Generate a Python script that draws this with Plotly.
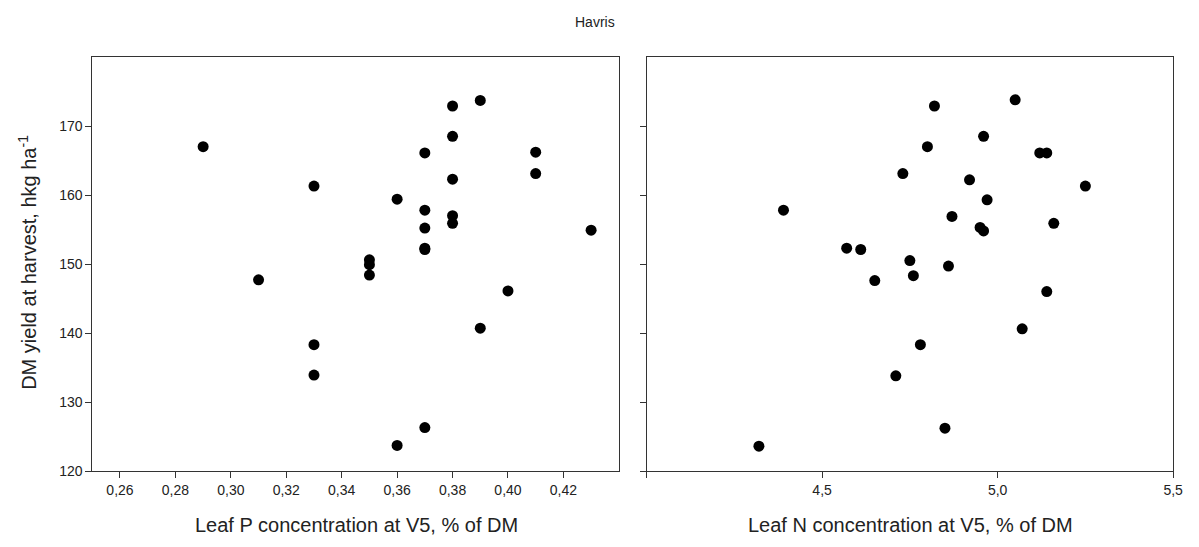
import plotly.graph_objects as go

# Left panel: Leaf P concentration vs DM yield
p_conc = [0.29, 0.31, 0.33, 0.33, 0.33, 0.35, 0.35, 0.35, 0.36, 0.36,
          0.37, 0.37, 0.37, 0.37, 0.37, 0.37, 0.38, 0.38, 0.38, 0.38,
          0.38, 0.39, 0.39, 0.40, 0.41, 0.41, 0.43]
p_yield = [167.0, 147.7, 161.3, 138.3, 133.9, 150.6, 149.9, 148.4, 159.4, 123.7,
           166.1, 157.8, 155.2, 152.3, 152.1, 126.3, 172.9, 168.5, 162.3, 157.0,
           155.9, 173.7, 140.7, 146.1, 166.2, 163.1, 154.9]

# Right panel: Leaf N concentration vs DM yield
n_conc = [4.32, 4.39, 4.57, 4.61, 4.65, 4.71, 4.73, 4.75, 4.76, 4.78,
          4.80, 4.82, 4.85, 4.86, 4.87, 4.92, 4.95, 4.96, 4.96, 4.97,
          5.05, 5.07, 5.12, 5.14, 5.14, 5.16, 5.25]
n_yield = [123.6, 157.8, 152.3, 152.1, 147.6, 133.8, 163.1, 150.5, 148.3, 138.3,
           167.0, 172.9, 126.2, 149.7, 156.9, 162.2, 155.3, 154.8, 168.5, 159.3,
           173.8, 140.6, 166.1, 166.1, 146.0, 155.9, 161.3]

p_tickvals = [0.26, 0.28, 0.30, 0.32, 0.34, 0.36, 0.38, 0.40, 0.42]
p_ticktext = ["0,26", "0,28", "0,30", "0,32", "0,34", "0,36", "0,38", "0,40", "0,42"]
n_tickvals = [4.5, 5.0, 5.5]
n_ticktext = ["4,5", "5,0", "5,5"]
y_tickvals = [120, 130, 140, 150, 160, 170]

OFF = 8  # page body margin
W, H = 1199 - OFF, 547 - OFF
font_family = "Liberation Sans, Arial, sans-serif"

def px(x):
    return (x - OFF) / W

TOP, BOT = 57 - OFF, 471 - OFF
plot_h = BOT - TOP

def py(y):
    return (BOT - (y - OFF)) / plot_h

fig = go.Figure()
marker = dict(color="black", size=11, line=dict(width=0))
fig.add_trace(go.Scatter(x=p_conc, y=p_yield, mode="markers", marker=marker,
                         xaxis="x", yaxis="y", showlegend=False))
fig.add_trace(go.Scatter(x=n_conc, y=n_yield, mode="markers", marker=marker,
                         xaxis="x2", yaxis="y2", showlegend=False))

axis_common = dict(showgrid=False, zeroline=False, showline=True, linecolor="#333333",
                   linewidth=1, mirror=True, ticks="outside", ticklen=6,
                   tickcolor="#333333", tickfont=dict(size=14, color="#222222"))

fig.update_layout(
    width=W, height=H,
    margin=dict(l=0, r=0, t=TOP, b=H - BOT),
    paper_bgcolor="white", plot_bgcolor="white",
    font=dict(family=font_family, color="#222222"),
    xaxis=dict(domain=[px(93), px(624)], range=[0.25, 0.44],
               tickvals=p_tickvals, ticktext=p_ticktext, anchor="y", **axis_common),
    yaxis=dict(domain=[0, 1], range=[120, 180], tickvals=y_tickvals,
               anchor="x", **axis_common),
    xaxis2=dict(domain=[px(652), px(1183)], range=[4.0, 5.5],
                tickvals=n_tickvals, ticktext=n_ticktext, anchor="y2",
                minor=dict(tickvals=[4.0], ticks="outside", ticklen=6, tickcolor="#333333"),
                **axis_common),
    yaxis2=dict(domain=[0, 1], range=[120, 180], tickvals=y_tickvals,
                showticklabels=False, anchor="x2", **axis_common),
)

ann_font = dict(size=20, color="#222222")
fig.add_annotation(text="Havris", x=px(600), y=py(22), xref="paper", yref="paper",
                   xanchor="center", yanchor="middle", showarrow=False,
                   font=dict(size=14, color="#222222"))
fig.add_annotation(text="Leaf P concentration at V5, % of DM", x=px(359), y=py(525),
                   xref="paper", yref="paper", xanchor="center", yanchor="middle",
                   showarrow=False, font=ann_font)
fig.add_annotation(text="Leaf N concentration at V5, % of DM", x=px(918), y=py(525),
                   xref="paper", yref="paper", xanchor="center", yanchor="middle",
                   showarrow=False, font=ann_font)
fig.add_annotation(text="DM yield at harvest, hkg ha<sup>-1</sup>", x=px(27), y=py(262),
                   xref="paper", yref="paper", xanchor="center", yanchor="middle",
                   showarrow=False, textangle=-90, font=ann_font)

fig.write_html("out.html")
